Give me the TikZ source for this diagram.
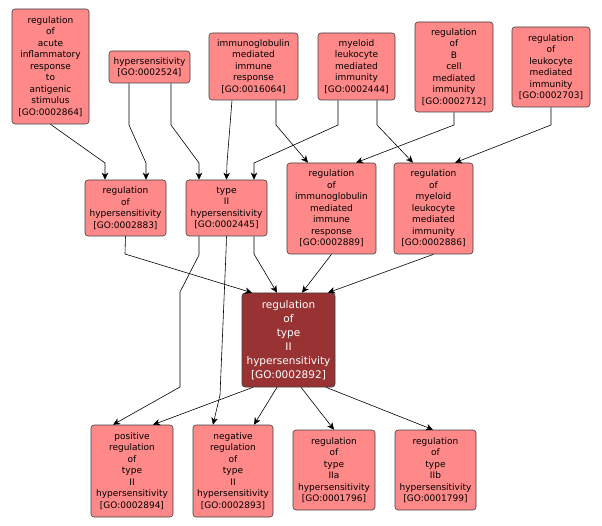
\documentclass[tikz,border=0pt]{standalone}
\usepackage{fontspec}
\setsansfont{DejaVu Sans}
\usetikzlibrary{arrows.meta}
\definecolor{goFill}{HTML}{FF8888}
\definecolor{goFocus}{HTML}{993333}
\begin{document}
\begin{tikzpicture}[x=1pt,y=-1pt,>={Stealth[length=7pt,width=6.5pt,inset=2pt]}, line join=round,
  term/.style={draw=black!75, line width=0.6pt, fill=goFill, rounded corners=3pt, align=center, inner sep=0pt, font=\sffamily\fontsize{9}{11.5}\selectfont},
  focus/.style={term, fill=goFocus, text=white, font=\sffamily\fontsize{10.5}{14}\selectfont},
  edge/.style={->, line width=0.6pt}]
		\useasboundingbox (0,0) rectangle (602,526);
		% top row
		\node[term, minimum width=77pt, minimum height=115pt] (n2864) at (50.5,66.5) {regulation\\of\\acute\\inflammatory\\response\\to\\antigenic\\stimulus\\{[GO:0002864]}};
		\node[term, minimum width=81pt, minimum height=32pt] (n2524) at (149.5,67) {hypersensitivity\\{[GO:0002524]}};
		\node[term, minimum width=89pt, minimum height=67pt] (n16064) at (253.5,66.5) {immunoglobulin\\mediated\\immune\\response\\{[GO:0016064]}};
		\node[term, minimum width=77pt, minimum height=67pt] (n2444) at (356.5,66.5) {myeloid\\leukocyte\\mediated\\immunity\\{[GO:0002444]}};
		\node[term, minimum width=78pt, minimum height=90pt] (n2712) at (454,67) {regulation\\of\\B\\cell\\mediated\\immunity\\{[GO:0002712]}};
		\node[term, minimum width=78pt, minimum height=80pt] (n2703) at (551,67) {regulation\\of\\leukocyte\\mediated\\immunity\\{[GO:0002703]}};
		% middle row
		\node[term, minimum width=81pt, minimum height=56pt] (n2883) at (125.5,208) {regulation\\of\\hypersensitivity\\{[GO:0002883]}};
		\node[term, minimum width=81pt, minimum height=56pt] (n2445) at (226.5,208) {type\\II\\hypersensitivity\\{[GO:0002445]}};
		\node[term, minimum width=89pt, minimum height=91pt] (n2889) at (331.5,208.5) {regulation\\of\\immunoglobulin\\mediated\\immune\\response\\{[GO:0002889]}};
		\node[term, minimum width=79pt, minimum height=91pt] (n2886) at (433.5,208.5) {regulation\\of\\myeloid\\leukocyte\\mediated\\immunity\\{[GO:0002886]}};
		% focus term
		\node[focus, minimum width=93pt, minimum height=94pt] (n2892) at (288.5,340) {regulation\\of\\type\\II\\hypersensitivity\\{[GO:0002892]}};
		% bottom row
		\node[term, minimum width=82pt, minimum height=92pt] (n2894) at (132,471) {positive\\regulation\\of\\type\\II\\hypersensitivity\\{[GO:0002894]}};
		\node[term, minimum width=80pt, minimum height=92pt] (n2893) at (233,471) {negative\\regulation\\of\\type\\II\\hypersensitivity\\{[GO:0002893]}};
		\node[term, minimum width=82pt, minimum height=80pt] (n1796) at (334,470) {regulation\\of\\type\\IIa\\hypersensitivity\\{[GO:0001796]}};
		\node[term, minimum width=81pt, minimum height=80pt] (n1799) at (435.5,470) {regulation\\of\\type\\IIb\\hypersensitivity\\{[GO:0001799]}};
		% top -> middle
		\draw[edge] (n2864.south) -- (105,163) -- ([xshift=-20.5pt]n2883.north);
		\draw[edge] ([xshift=-20.5pt]n2524.south) -- (129,125) -- (146,163) -- ([xshift=20.5pt]n2883.north);
		\draw[edge] ([xshift=21.5pt]n2524.south) -- (171,125) -- (199,163) -- ([xshift=-27.5pt]n2445.north);
		\draw[edge] ([xshift=-21.5pt]n16064.south) -- (227,163) -- (n2445.north);
		\draw[edge] ([xshift=22.5pt]n16064.south) -- (276,125) -- ([xshift=-23.5pt]n2889.north);
		\draw[edge] ([xshift=-18.5pt]n2444.south) -- (338,125) -- (254,163) -- ([xshift=27.5pt]n2445.north);
		\draw[edge] ([xshift=20.5pt]n2444.south) -- (377,125) -- ([xshift=-20.5pt]n2886.north);
		\draw[edge] (n2712.south) -- (454,125) -- ([xshift=24.5pt]n2889.north);
		\draw[edge] (n2703.south) -- (551,125) -- ([xshift=21.5pt]n2886.north);
		% middle -> focus
		\draw[edge] (n2883.south) -- (125,254) -- ([xshift=-36.5pt]n2892.north);
		\draw[edge] ([xshift=27.5pt]n2445.south) -- (254,254) -- ([xshift=-11.5pt]n2892.north);
		\draw[edge] (n2889.south) -- ([xshift=13.5pt]n2892.north);
		\draw[edge] (n2886.south) -- ([xshift=39.5pt]n2892.north);
		% middle -> bottom
		\draw[edge] ([xshift=-27.5pt]n2445.south) -- (199,255) -- (180,292) -- (180,387) -- ([xshift=-19pt]n2894.north);
		\draw[edge] (n2445.south) -- (226,252) -- (220,395) -- ([xshift=-20pt]n2893.north);
		% focus -> bottom
		\draw[edge] ([xshift=-35.5pt]n2892.south) -- ([xshift=21pt]n2894.north);
		\draw[edge] ([xshift=-11.5pt]n2892.south) -- ([xshift=21pt]n2893.north);
		\draw[edge] ([xshift=12.5pt]n2892.south) -- (n1796.north);
		\draw[edge] ([xshift=37.5pt]n2892.south) -- ([xshift=-2.5pt]n1799.north);
\end{tikzpicture}
\end{document}
